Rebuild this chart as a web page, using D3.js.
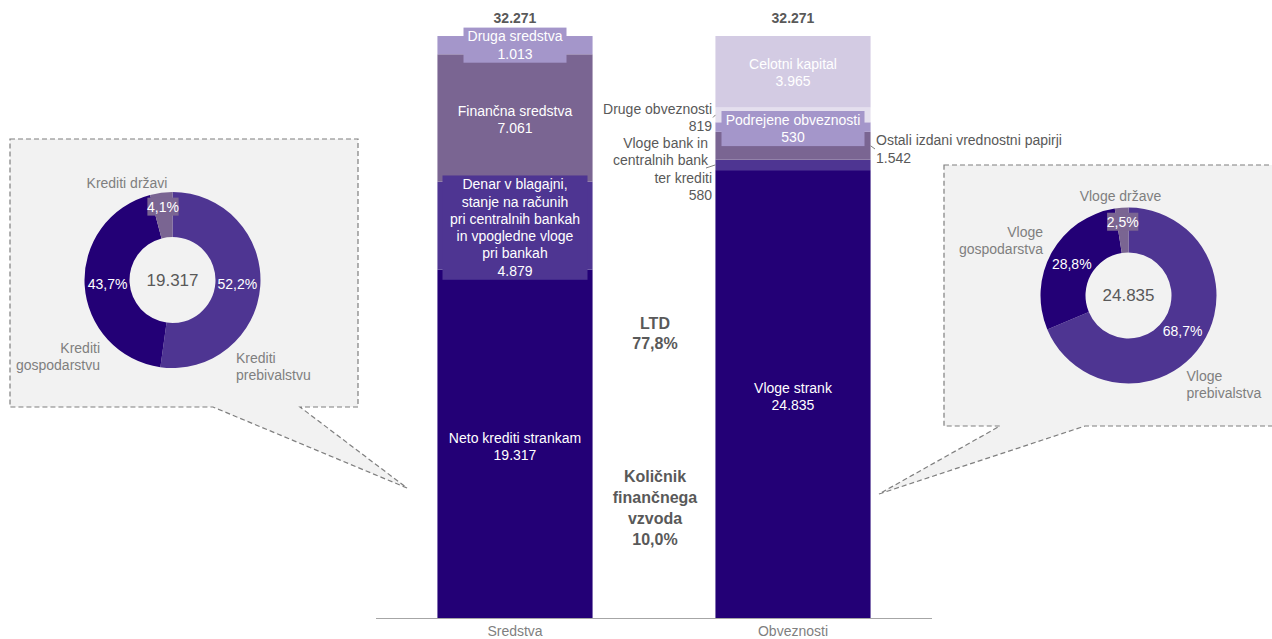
<!DOCTYPE html>
<html><head><meta charset="utf-8">
<script src="https://cdn.jsdelivr.net/npm/d3@7"></script>
<style>body{margin:0;background:#fff}svg{display:block;font-family:"Liberation Sans",Arial,sans-serif}</style>
</head><body>
<svg id="c" width="1272" height="639"></svg>
<script>
// ---------- data ----------
const categories = ["Sredstva", "Obveznosti"];
const totals = [32271, 32271];
const assetNames = ["Neto krediti strankam", "Denar v blagajni,\nstanje na računih\npri centralnih bankah\nin vpogledne vloge\npri bankah", "Finančna sredstva", "Druga sredstva"];
const assetValues = [19317, 4879, 7061, 1013];
const liabNames = ["Vloge strank", "Vloge bank in\ncentralnih bank\nter krediti", "Ostali izdani vrednostni papirji", "Podrejene obveznosti", "Druge obveznosti", "Celotni kapital"];
const liabValues = [24835, 580, 1542, 530, 819, 3965];
const loanNames = ["Krediti prebivalstvu", "Krediti gospodarstvu", "Krediti državi"];
const loanShares = [52.2, 43.7, 4.1];
const loanTotal = 19317;
const depositNames = ["Vloge prebivalstva", "Vloge gospodarstva", "Vloge države"];
const depositShares = [68.7, 28.8, 2.5];
const depositTotal = 24835;
const ratioNames = ["LTD", "Količnik\nfinančnega\nvzvoda"];
const ratioValues = [77.8, 10.0];

// ---------- styles ----------
const segColors = ["#230076", "#4e3592", "#7a6592", "#a496ca", "#e4dfee", "#d3cbe3"];
const pieColors = ["#4e3592", "#230076", "#7a6592"];
const FS = 14;
const loc = d3.formatLocale({decimal: ",", thousands: ".", grouping: [3], currency: ["", ""]});
const fmtN = loc.format(",d");
const fmtP = v => loc.format(".1f")(v) + "%";

const svg = d3.select("#c");

// ---------- callouts ----------
svg.append("path")
  .attr("d", "M10,139 H358 V407 H300 L407,488 L213,407 H10 Z")
  .attr("fill", "#f2f2f2").attr("stroke", "#7f7f7f").attr("stroke-width", 1.2).attr("stroke-dasharray", "5,3");
svg.append("path")
  .attr("d", "M944,165 H1290 V426 H1085 L879,494 L1000,426 H944 Z")
  .attr("fill", "#f2f2f2").attr("stroke", "#7f7f7f").attr("stroke-width", 1.2).attr("stroke-dasharray", "5,3");

// ---------- scales ----------
const x = d3.scaleBand().domain(categories).range([376, 932]).paddingInner(0.442).paddingOuter(0.221);
const y = d3.scaleLinear().domain([0, 32271]).range([618, 36]);

function stackOf(values) {
  let acc = 0;
  return values.map(v => { const s = {y0: acc, y1: acc + v, v}; acc += v; return s; });
}
const assetStack = stackOf(assetValues);
const liabStack = stackOf(liabValues);

function drawBar(cat, stack) {
  svg.append("g").selectAll("rect").data(stack).join("rect")
    .attr("x", x(cat)).attr("width", x.bandwidth())
    .attr("y", d => y(d.y1)).attr("height", d => y(d.y0) - y(d.y1))
    .attr("fill", (d, i) => segColors[i]);
}
drawBar(categories[0], assetStack);
drawBar(categories[1], liabStack);

// axis
const axis = svg.append("g").attr("transform", "translate(0,618)")
  .call(d3.axisBottom(x).tickSize(0).tickPadding(8));
axis.select(".domain").attr("stroke", "#a6a6a6").attr("d", "M376,0.5H932");
axis.selectAll("text").attr("font-size", FS).attr("fill", "#7f7f7f").attr("font-family", "Liberation Sans, Arial, sans-serif");

// totals
categories.forEach((c, i) => {
  svg.append("text").attr("x", x(c) + x.bandwidth() / 2).attr("y", y(totals[i]) - 13)
    .attr("text-anchor", "middle").attr("font-size", FS).attr("font-weight", "bold").attr("fill", "#595959")
    .text(fmtN(totals[i]));
});

function multiText(g, lines, cx, cy, lh, anchor, attrs) {
  const n = lines.length;
  const t = g.append("text").attr("text-anchor", anchor).attr("font-size", FS);
  Object.entries(attrs || {}).forEach(([k, v]) => t.attr(k, v));
  lines.forEach((l, i) => {
    t.append("tspan").attr("x", cx).attr("y", cy + (i - (n - 1) / 2) * lh).attr("dy", "0.35em").text(l);
  });
  return t;
}

// in-bar labels
function barLabel(cat, stack, names, idx, box, boxW, shift) {
  const s = stack[idx];
  const cx = x(cat) + x.bandwidth() / 2;
  const cy = (y(s.y0) + y(s.y1)) / 2 + (shift || 0);
  const lines = names[idx].split("\n").concat([fmtN(s.v)]);
  const lh = 17.3;
  if (box) {
    const h = lines.length * lh + 0.5;
    svg.append("rect").attr("x", cx - boxW / 2).attr("y", cy - h / 2).attr("width", boxW).attr("height", h)
      .attr("fill", segColors[idx]);
  }
  multiText(svg, lines, cx, cy, lh, "middle", {fill: "#ffffff"});
}
barLabel(categories[0], assetStack, assetNames, 0, false, 0, 2.5);
barLabel(categories[0], assetStack, assetNames, 1, true, 145, 2);
barLabel(categories[0], assetStack, assetNames, 2, false, 0, 1.5);
barLabel(categories[0], assetStack, assetNames, 3, true, 103);
barLabel(categories[1], liabStack, liabNames, 0, false, 0, 2.5);
barLabel(categories[1], liabStack, liabNames, 3, true, 143, 1.5);
barLabel(categories[1], liabStack, liabNames, 5, false, 0, 1);

// outside labels with leaders
function outsideLabel(idx, side, tx, ty, lx) {
  const s = liabStack[idx];
  const cy = (y(s.y0) + y(s.y1)) / 2;
  const lines = liabNames[idx].split("\n").concat([fmtN(s.v)]);
  const edge = side === "left" ? x(categories[1]) : x(categories[1]) + x.bandwidth();
  svg.append("path").attr("d", `M${lx},${ty}L${edge},${cy}`).attr("stroke", "#7f7f7f").attr("stroke-width", 1).attr("fill", "none");
  const lh = 17.3;
  const t = svg.append("text").attr("text-anchor", side === "left" ? "end" : "start").attr("font-size", FS).attr("fill", "#595959");
  lines.forEach((l, i) => t.append("tspan").attr("x", tx).attr("y", ty + (i - (lines.length - 1) / 2) * lh).attr("dy", "0.35em").text(l));
}
outsideLabel(4, "left", 712, 117.5, 713);
outsideLabel(2, "right", 876, 149, 875);
// Vloge bank label (multi-line, right aligned)
(function () {
  const s = liabStack[1];
  const cy = (y(s.y0) + y(s.y1)) / 2;
  const lines = liabNames[1].split("\n").concat([fmtN(s.v)]);
  svg.append("path").attr("d", `M706,168L${x(categories[1])},${cy}`).attr("stroke", "#7f7f7f").attr("fill", "none");
  const t = svg.append("text").attr("text-anchor", "end").attr("font-size", FS).attr("fill", "#595959");
  const xs = [708, 708, 712, 712];
  lines.forEach((l, i) => t.append("tspan").attr("x", xs[i]).attr("y", 143 + i * 17.5).attr("dy", "0.35em").text(l));
})();

// ratio labels
multiText(svg, [ratioNames[0], fmtP(ratioValues[0])], 655, 333, 20, "middle", {"font-weight": "bold", fill: "#595959", "font-size": 16});
multiText(svg, ratioNames[1].split("\n").concat([fmtP(ratioValues[1])]), 655, 508, 21, "middle", {"font-weight": "bold", fill: "#595959", "font-size": 16});

// ---------- donuts ----------
function donut(cx, cy, shares, names, total, labelPos) {
  const g = svg.append("g").attr("transform", `translate(${cx},${cy})`);
  const pie = d3.pie().sort(null).value(d => d)(shares);
  const arc = d3.arc().innerRadius(43).outerRadius(88);
  g.selectAll("path").data(pie).join("path").attr("d", arc).attr("fill", (d, i) => pieColors[i]);
  g.append("text").attr("text-anchor", "middle").attr("dy", "0.35em").attr("font-size", 17).attr("fill", "#595959").text(fmtN(total));
  pie.forEach((d, i) => {
    const a = (d.startAngle + d.endAngle) / 2;
    const r = (d.endAngle - d.startAngle) < 0.4 ? 74 : 65;
    const px = r * Math.sin(a), py = -r * Math.cos(a);
    const txt = fmtP(shares[i]);
    if (i === 2) {
      const w = txt.length * 7.3 + 2;
      g.append("rect").attr("x", px - w / 2).attr("y", py - 9).attr("width", w).attr("height", 18).attr("fill", pieColors[i]);
    }
    g.append("text").attr("x", px).attr("y", py).attr("dy", "0.35em").attr("text-anchor", "middle")
      .attr("font-size", FS).attr("fill", "#ffffff").text(txt);
    const lp = labelPos[i];
    const words = names[i].split(" ");
    const lines = lp.oneLine ? [names[i]] : [words[0], words.slice(1).join(" ")];
    const t = g.append("text").attr("text-anchor", lp.anchor).attr("font-size", FS).attr("fill", "#7f7f7f");
    lines.forEach((l, k) => t.append("tspan").attr("x", lp.x).attr("y", lp.y + k * 17).attr("dy", "0.35em").text(l));
  });
}
donut(172.5, 280, loanShares, loanNames, loanTotal, [
  {x: 63.5, y: 78, anchor: "start"},
  {x: -72.5, y: 68, anchor: "end"},
  {x: -45.5, y: -97, anchor: "middle", oneLine: true}
]);
donut(1128.5, 295.5, depositShares, depositNames, depositTotal, [
  {x: 58, y: 80.5, anchor: "start"},
  {x: -85.5, y: -63.5, anchor: "end"},
  {x: -8, y: -99.5, anchor: "middle", oneLine: true}
]);
</script>
</body></html>
